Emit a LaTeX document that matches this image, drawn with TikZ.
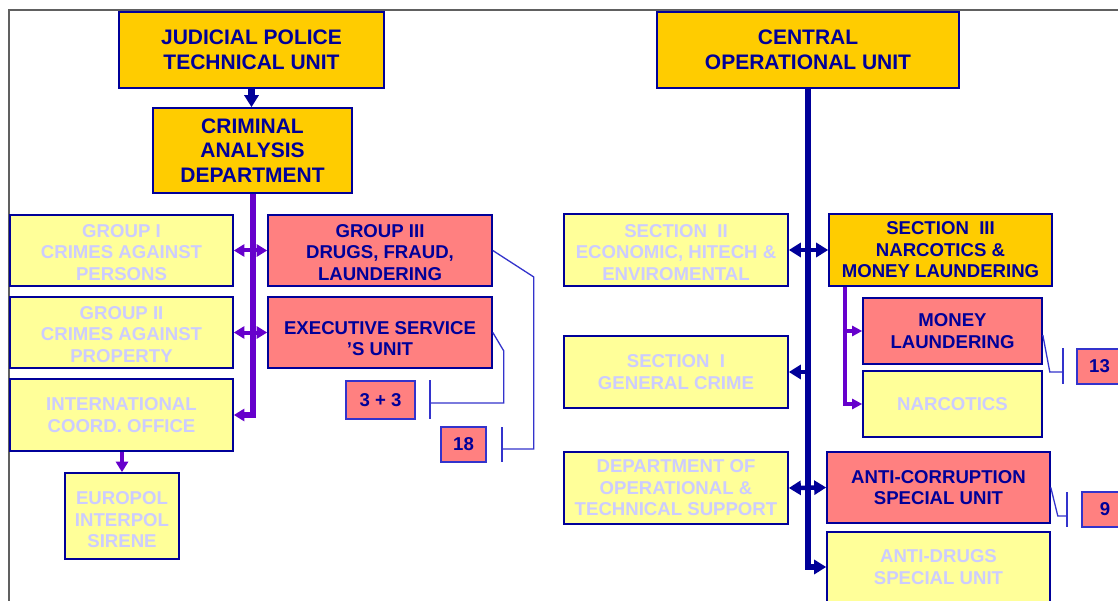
\documentclass[tikz,border=0pt]{standalone}
\usepackage{fontspec}
\setmainfont{Liberation Sans}
\usetikzlibrary{arrows.meta}
\definecolor{navy}{HTML}{000099}
\definecolor{goldc}{HTML}{FFCC00}
\definecolor{pinkc}{HTML}{FF8080}
\definecolor{paley}{HTML}{FFFF99}
\definecolor{faded}{HTML}{CCCCFF}
\definecolor{purp}{HTML}{6600CC}
\definecolor{midblue}{HTML}{3333CC}
\definecolor{framegray}{HTML}{606060}
\begin{document}
\begin{tikzpicture}[x=1pt,y=-1pt,
  box/.style={draw=navy, line width=1.6pt, inner sep=0pt, align=center,
    font=\bfseries\fontsize{18.6}{21.5}\selectfont, text=navy},
  txt/.style={inner sep=0pt, align=center, font=\bfseries\fontsize{18.6}{21.5}\selectfont, text=navy},
  goldbox/.style={box, fill=goldc},
  pinkbox/.style={box, fill=pinkc},
  palebox/.style={box, fill=paley, text=faded},
  bigtext/.style={font=\bfseries\fontsize{21}{24.5}\selectfont},
  numbox/.style={box, fill=pinkc, draw=midblue, line width=1.2pt},
  navytrunk/.style={draw=navy, line width=6.5pt, line join=miter},
  navyarrow/.style={draw=navy, line width=4.5pt},
  purptrunk/.style={draw=purp, line width=6pt, line join=miter},
  purparrow/.style={draw=purp, line width=4pt},
  purpthin/.style={draw=purp, line width=3.5pt, line join=miter},
  bracket/.style={draw=midblue, line width=1.3pt},
  ntip/.tip={Triangle[length=12pt,width=14pt]},
  ptip/.tip={Triangle[length=10.5pt,width=12pt]},
  stip/.tip={Triangle[length=10pt,width=10pt]}
]
\useasboundingbox (0,0) rectangle (1118,601);
\fill[white] (0,0) rectangle (1118,601);
\draw[framegray, line width=1.8pt] (1120,10) -- (9,10) -- (9,603);

% left side
\node[goldbox,bigtext,minimum width=265pt,minimum height=76pt] (jptu) at (251.5,50) {JUDICIAL POLICE\\TECHNICAL UNIT};
\node[goldbox,bigtext,minimum width=199pt,minimum height=85pt] (cad) at (252.5,150.5) {CRIMINAL\\ANALYSIS\\DEPARTMENT};
\node[palebox,minimum width=223pt,minimum height=71pt] (g1) at (121.5,250.5) {};
\node[txt,text=faded] (g1t) at ([yshift=-2pt]g1.center) {GROUP I\\CRIMES AGAINST\\PERSONS};
\node[palebox,minimum width=223pt,minimum height=71pt] (g2) at (121.5,332.5) {};
\node[txt,text=faded] (g2t) at ([yshift=-2pt]g2.center) {GROUP II\\CRIMES AGAINST\\PROPERTY};
\node[palebox,minimum width=223pt,minimum height=72pt] (intl) at (121.5,415) {INTERNATIONAL\\COORD. OFFICE};
\node[palebox,minimum width=114pt,minimum height=86pt] (euro) at (122,516) {};
\node[txt,text=faded] (eurot) at ([yshift=-4pt]euro.center) {EUROPOL\\INTERPOL\\SIRENE};
\node[pinkbox,minimum width=224pt,minimum height=71pt] (g3) at (380,250.5) {};
\node[txt] (g3t) at ([yshift=-2pt]g3.center) {GROUP III\\DRUGS, FRAUD,\\LAUNDERING};
\node[pinkbox,minimum width=224pt,minimum height=71pt] (exec) at (380,332.5) {};
\node[txt] (exect) at ([yshift=-6pt]exec.center) {EXECUTIVE SERVICE\\’S UNIT};
\node[numbox,minimum width=69pt,minimum height=38pt] (n33) at (380.5,400) {3 + 3};
\node[numbox,minimum width=45pt,minimum height=35pt] (n18) at (463.5,444.5) {18};

% right side
\node[goldbox,bigtext,minimum width=302pt,minimum height=76pt] (cou) at (808,50) {CENTRAL\\OPERATIONAL UNIT};
\node[palebox,minimum width=224pt,minimum height=72pt] (s2) at (676,250) {};
\node[txt,text=faded] (s2t) at ([yshift=-2.5pt]s2.center) {SECTION\ \ II\\ECONOMIC, HITECH \&\\ENVIROMENTAL};
\node[palebox,minimum width=224pt,minimum height=72pt] (s1) at (676,372) {SECTION\ \ I\\GENERAL CRIME};
\node[palebox,minimum width=224pt,minimum height=72pt] (dots) at (676,488) {DEPARTMENT OF\\OPERATIONAL \&\\TECHNICAL SUPPORT};
\node[goldbox,minimum width=223pt,minimum height=72pt] (s3) at (940.5,250) {SECTION\ \ III\\NARCOTICS \&\\MONEY LAUNDERING};
\node[pinkbox,minimum width=179pt,minimum height=66pt] (ml) at (952.5,331) {MONEY\\LAUNDERING};
\node[palebox,minimum width=179pt,minimum height=66pt] (narc) at (952.5,404) {NARCOTICS};
\node[numbox,minimum width=45pt,minimum height=35pt] (n13) at (1099.5,366.5) {13};
\node[pinkbox,minimum width=223pt,minimum height=71pt] (acu) at (938.5,487.5) {ANTI-CORRUPTION\\SPECIAL UNIT};
\node[numbox,minimum width=46pt,minimum height=35pt] (n9) at (1105,509.5) {9};
\node[palebox,minimum width=223pt,minimum height=70pt] (adu) at (938.5,567) {ANTI-DRUGS\\SPECIAL UNIT};

% left connectors
\draw[navytrunk,-ntip] (jptu.south) -- (jptu.south |- cad.north);
\draw[purptrunk,-ptip] (cad.south) |- (intl.east);
\draw[purparrow,ptip-ptip] (g1.east) -- (g3.west);
\draw[purparrow,ptip-ptip] (g2.east) -- (exec.west);
\draw[purparrow,-ptip] (euro.north |- intl.south) -- (euro.north);

\coordinate (b18) at (502,449);
\coordinate (b18t) at (502,427);
\coordinate (b18b) at (502,462);
\draw[bracket] (g3.east) -- ++(41,26.5) |- (b18);
\draw[bracket] (b18t) -- (b18b);
\coordinate (b33) at (430,403);
\coordinate (b33t) at (430,380);
\coordinate (b33b) at (430,419);
\draw[bracket] (exec.east) -- ++(11,18.5) |- (b33);
\draw[bracket] (b33t) -- (b33b);

% right connectors
\draw[navytrunk,-ntip] (cou.south) |- (adu.west);
\draw[navyarrow,ntip-ntip] (s2.east) -- (s3.west);
\draw[navyarrow,ntip-ntip] (dots.east) -- (acu.west);
\draw[navyarrow,-ntip] (cou.south |- s1.east) -- (s1.east);

\coordinate (s3b) at ([xshift=17pt]s3.south west);
\draw[purpthin,-stip] (s3b) |- (narc.west);
\draw[purpthin,-stip] (s3b |- ml.west) -- (ml.west);

\coordinate (b13) at (1063,372);
\coordinate (b13t) at (1063,348);
\coordinate (b13b) at (1063,384);
\draw[bracket] ([yshift=-4pt]ml.east) -- ++(7,37) -- (b13);
\draw[bracket] (b13t) -- (b13b);
\coordinate (b9) at (1067,516);
\coordinate (b9t) at (1067,492);
\coordinate (b9b) at (1067,527);
\draw[bracket] (acu.east) -- ++(7,28.5) -- (b9);
\draw[bracket] (b9t) -- (b9b);
\end{tikzpicture}
\end{document}
